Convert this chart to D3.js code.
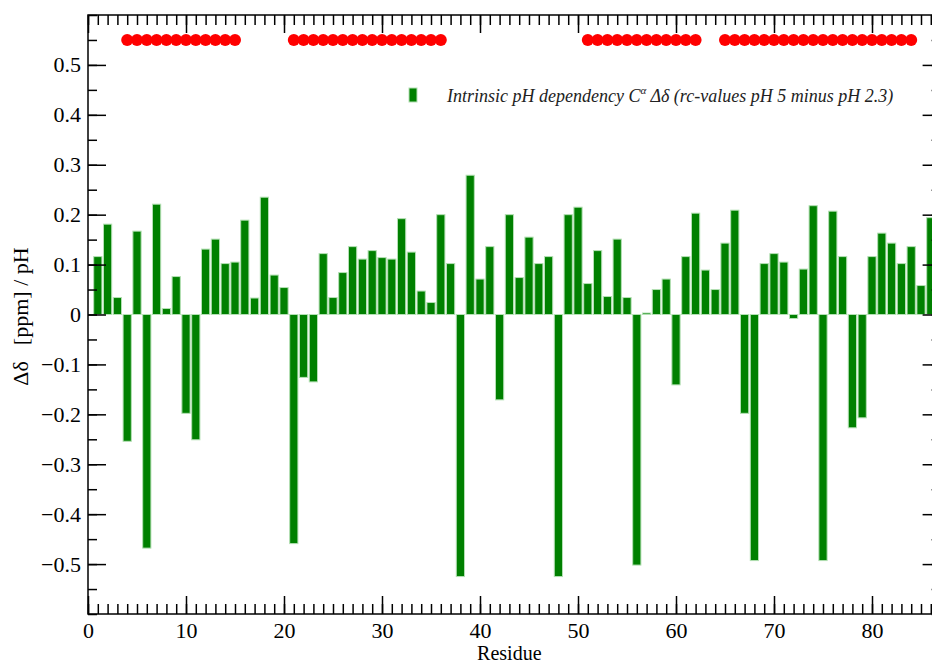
<!DOCTYPE html>
<html><head><meta charset="utf-8">
<script src="https://cdn.jsdelivr.net/npm/d3@7"></script>
<style>
html,body{margin:0;padding:0;background:#fff;overflow:hidden;}
svg{display:block;}
svg text{font-family:"Liberation Serif","Times New Roman",serif;}
</style></head>
<body>
<svg id="chart" width="932" height="667"></svg>
<script>
// Residues and intrinsic pH dependency values (ppm / pH)
const residues = d3.range(1, 87);
const deltaValues = [
  0.116, 0.181, 0.034, -0.254, 0.167, -0.468, 0.221, 0.012, 0.076, -0.198,
  -0.251, 0.131, 0.151, 0.102, 0.105, 0.189, 0.033, 0.235, 0.079, 0.054,
  -0.459, -0.126, -0.135, 0.122, 0.034, 0.084, 0.136, 0.111, 0.128, 0.114,
  0.111, 0.192, 0.125, 0.047, 0.024, 0.200, 0.102, -0.525, 0.279, 0.071,
  0.136, -0.171, 0.200, 0.074, 0.155, 0.102, 0.116, -0.525, 0.200, 0.215,
  0.062, 0.128, 0.036, 0.151, 0.034, -0.502, 0.003, 0.050, 0.071, -0.141,
  0.116, 0.203, 0.089, 0.050, 0.143, 0.209, -0.198, -0.493, 0.102, 0.122,
  0.105, -0.008, 0.091, 0.218, -0.493, 0.207, 0.116, -0.227, -0.207, 0.116,
  0.163, 0.143, 0.102, 0.136, 0.058, 0.194
];
// Residues marked with red symbols at the top
const markedResidues = [].concat(d3.range(4, 16), d3.range(21, 37), d3.range(51, 63), d3.range(65, 85));
const markerLevel = 0.55;
const yTickValues = [0.5, 0.4, 0.3, 0.2, 0.1, 0, -0.1, -0.2, -0.3, -0.4, -0.5];
const xTickValues = [0, 10, 20, 30, 40, 50, 60, 70, 80];
const legendLabel = "Intrinsic pH dependency C";
const legendSup = "α";
const legendRest = " Δδ (rc-values pH 5 minus pH 2.3)";
const xTitle = "Residue";
const yTitleParts = ["Δδ", "[ppm] / pH"];

(function () {
const svg = d3.select("#chart");
const pLeft = 88, pTop = 15, pBottom = 614;
const x = d3.scaleLinear().domain([0, 87]).range([pLeft, 940.6]);
const y = d3.scaleLinear().domain([-0.6, 0.6]).range([pBottom, pTop]);
const pRight = x(87);
const barW = (x(1) - x(0)) * 0.84;

// Bars
svg.append("g").selectAll("rect").data(residues.map((r, i) => ({r, v: deltaValues[i]})))
  .join("rect")
  .attr("x", d => x(d.r) - barW / 2)
  .attr("width", barW)
  .attr("y", d => Math.min(y(d.v), y(0)))
  .attr("height", d => Math.max(Math.abs(y(d.v) - y(0)), 1))
  .attr("fill", "#008000")
  .attr("stroke", "#b4e0b4")
  .attr("stroke-width", 1);

// Red markers
svg.append("g").selectAll("circle").data(markedResidues).join("circle")
  .attr("cx", d => x(d)).attr("cy", y(markerLevel)).attr("r", 6)
  .attr("fill", "#ff0000");

function styleAxis(g) {
  g.attr("font-family", "Liberation Serif").attr("font-size", 22);
  g.select(".domain").remove();
  g.selectAll("line").attr("stroke", "#000").attr("stroke-width", 1.5);
  g.selectAll("text").attr("fill", "#000");
}
const minorX = d3.range(0, 88);
const minorY = d3.range(-12, 13).map(d => d * 0.05);

// bottom
svg.append("g").attr("transform", `translate(0,${pBottom})`)
  .call(d3.axisBottom(x).tickValues(minorX).tickSize(-10).tickFormat(""))
  .call(styleAxis);
svg.append("g").attr("transform", `translate(0,${pBottom})`)
  .call(d3.axisBottom(x).tickValues(xTickValues).tickSize(-18).tickPadding(8).tickFormat(d3.format("d")))
  .call(styleAxis);
// top
svg.append("g").attr("transform", `translate(0,${pTop})`)
  .call(d3.axisTop(x).tickValues(minorX).tickSize(-10).tickFormat(""))
  .call(styleAxis);
svg.append("g").attr("transform", `translate(0,${pTop})`)
  .call(d3.axisTop(x).tickValues(xTickValues).tickSize(-18).tickFormat(""))
  .call(styleAxis);
// left
svg.append("g").attr("transform", `translate(${pLeft},0)`)
  .call(d3.axisLeft(y).tickValues(minorY).tickSize(-9).tickFormat(""))
  .call(styleAxis);
svg.append("g").attr("transform", `translate(${pLeft},0)`)
  .call(d3.axisLeft(y).tickValues(yTickValues).tickSize(-18).tickPadding(7).tickFormat(d => d === 0 ? "0" : d3.format(".1f")(d)))
  .call(styleAxis);
// right
svg.append("g").attr("transform", `translate(${pRight},0)`)
  .call(d3.axisRight(y).tickValues(minorY).tickSize(-9).tickFormat(""))
  .call(styleAxis);
svg.append("g").attr("transform", `translate(${pRight},0)`)
  .call(d3.axisRight(y).tickValues(yTickValues).tickSize(-18).tickFormat(""))
  .call(styleAxis);

// Frame
svg.append("rect").attr("x", pLeft).attr("y", pTop).attr("width", pRight - pLeft).attr("height", pBottom - pTop)
  .attr("fill", "none").attr("stroke", "#000").attr("stroke-width", 1.5);

// Titles
svg.append("text").attr("x", (pLeft + pRight) / 2 - 5).attr("y", 660).attr("text-anchor", "middle")
  .attr("font-size", 20).text(xTitle);
const yt = svg.append("text").attr("transform", `translate(28,${y(0) + 2}) rotate(-90)`).attr("text-anchor", "middle")
  .attr("font-size", 22);
yt.append("tspan").text(yTitleParts[0]);
yt.append("tspan").attr("dx", 16).text(yTitleParts[1]);

// Legend
svg.append("rect").attr("x", 409).attr("y", 88).attr("width", 8).attr("height", 14)
  .attr("fill", "#008000").attr("stroke", "#b4e0b4").attr("stroke-width", 1);
const lt = svg.append("text").attr("x", 447).attr("y", 102).attr("font-size", 18).attr("font-style", "italic").attr("fill", "#222");
lt.append("tspan").text(legendLabel);
lt.append("tspan").attr("dy", -8).attr("font-size", 11).text(legendSup);
lt.append("tspan").attr("dy", 8).text(legendRest);
})();
</script>
</body></html>
